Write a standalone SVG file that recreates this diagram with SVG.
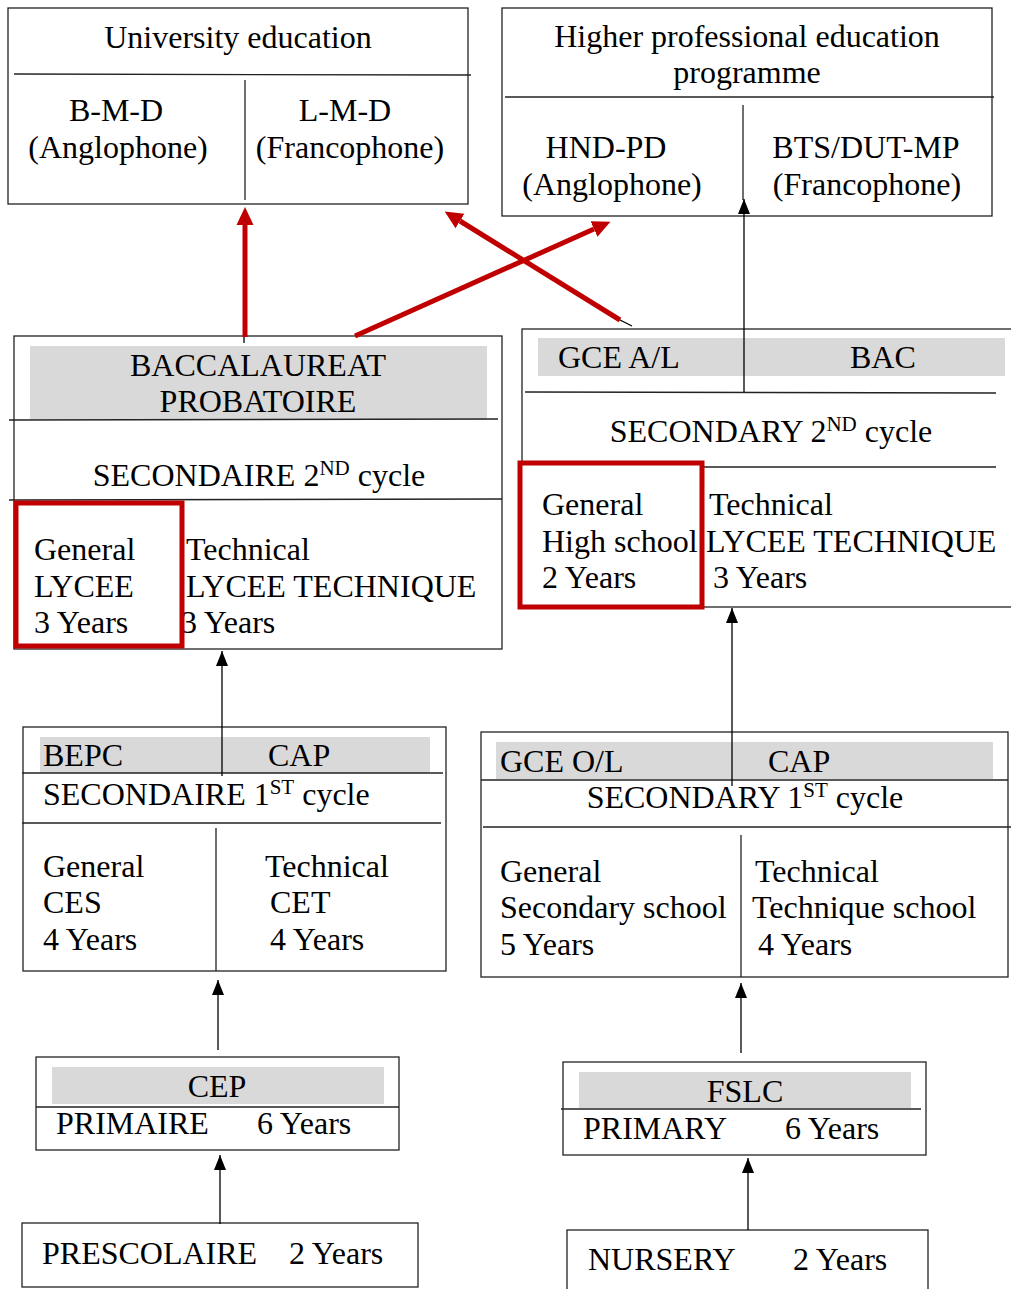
<svg xmlns="http://www.w3.org/2000/svg" width="1011" height="1289" viewBox="0 0 1011 1289">
<style>
text{font-family:"Liberation Serif","Times New Roman",serif;font-size:32px;fill:#000}
.c{text-anchor:middle}
.sup{font-size:21px}
.box{fill:#fff;stroke:#222;stroke-width:1.3}
.ln{stroke:#222;stroke-width:1.3;fill:none}
.gray{fill:#d9d9d9}
.red{fill:#fff;stroke:#c00000;stroke-width:5}
.arr{stroke:#000;stroke-width:1.3;fill:none}
.rarr{stroke:#c00000;stroke-width:5;fill:none}
</style>
<defs>
<marker id="ah" markerUnits="userSpaceOnUse" markerWidth="16" markerHeight="14" viewBox="0 -7 16 14" refX="15" refY="0" orient="auto"><path d="M0,-6 L15,0 L0,6 z" fill="#000"/></marker>
<marker id="rh" markerUnits="userSpaceOnUse" markerWidth="19" markerHeight="19" viewBox="0 -9.5 19 19" refX="0" refY="0" orient="auto"><path d="M0,-8.5 L18,0 L0,8.5 z" fill="#c00000"/></marker>
</defs>

<g id="university">
<rect class="box" x="8" y="8" width="460" height="196"/>
<line class="ln" x1="14" y1="74" x2="471" y2="75"/>
<line class="ln" x1="245" y1="80" x2="245" y2="200"/>
<text class="c" x="238" y="48">University education</text>
<text class="c" x="116" y="121">B-M-D</text>
<text class="c" x="118" y="158">(Anglophone)</text>
<text class="c" x="345" y="121">L-M-D</text>
<text class="c" x="350" y="158">(Francophone)</text>
</g>

<g id="higher-professional">
<rect class="box" x="502" y="8" width="490" height="208"/>
<line class="ln" x1="505" y1="97" x2="994" y2="97"/>
<line class="ln" x1="743" y1="105" x2="743" y2="200"/>
<text class="c" x="747" y="47">Higher professional education</text>
<text class="c" x="747" y="83">programme</text>
<text class="c" x="606" y="158">HND-PD</text>
<text class="c" x="612" y="195">(Anglophone)</text>
<text class="c" x="866" y="158">BTS/DUT-MP</text>
<text class="c" x="867" y="195">(Francophone)</text>
</g>

<g id="secondaire-2">
<rect class="box" x="14" y="336" width="488" height="313"/>
<rect class="gray" x="30" y="346" width="457" height="73"/>
<line class="ln" x1="9" y1="420" x2="498" y2="419"/>
<line class="ln" x1="9" y1="500" x2="502" y2="499"/>
<text class="c" x="258" y="376">BACCALAUREAT</text>
<text class="c" x="258" y="412">PROBATOIRE</text>
<text class="c" x="259" y="486">SECONDAIRE 2<tspan class="sup" dy="-11">ND</tspan><tspan dy="11"> cycle</tspan></text>
<text x="186" y="560">Technical</text>
<text x="186" y="597">LYCEE TECHNIQUE</text>
<text x="181" y="633">3 Years</text>
<rect class="red" x="16" y="503" width="166" height="143"/>
<text x="34" y="560">General</text>
<text x="34" y="597">LYCEE</text>
<text x="34" y="633">3 Years</text>
</g>

<g id="secondary-2">
<rect class="box" x="522" y="329" width="500" height="278"/>
<rect class="gray" x="538" y="338" width="467" height="38"/>
<line class="ln" x1="525" y1="392" x2="996" y2="393"/>
<line class="ln" x1="700" y1="467" x2="996" y2="467"/>
<text x="558" y="368">GCE A/L</text>
<text x="850" y="368">BAC</text>
<text class="c" x="771" y="442">SECONDARY 2<tspan class="sup" dy="-11">ND</tspan><tspan dy="11"> cycle</tspan></text>
<text x="709" y="515">Technical</text>
<text x="706" y="552">LYCEE TECHNIQUE</text>
<text x="713" y="588">3 Years</text>
<rect class="red" x="520" y="463" width="182" height="144"/>
<text x="542" y="515">General</text>
<text x="542" y="552">High school</text>
<text x="542" y="588">2 Years</text>
</g>

<g id="secondaire-1">
<rect class="box" x="23" y="727" width="423" height="244"/>
<rect class="gray" x="40" y="737" width="390" height="36"/>
<line class="ln" x1="22" y1="773" x2="443" y2="773"/>
<line class="ln" x1="22" y1="823" x2="441" y2="823"/>
<line class="ln" x1="216" y1="828" x2="216" y2="971"/>
<text x="43" y="766">BEPC</text>
<text x="268" y="766">CAP</text>
<text x="43" y="805">SECONDAIRE 1<tspan class="sup" dy="-11">ST</tspan><tspan dy="11"> cycle</tspan></text>
<text x="43" y="877">General</text>
<text x="43" y="913">CES</text>
<text x="43" y="950">4 Years</text>
<text x="265" y="877">Technical</text>
<text x="270" y="913">CET</text>
<text x="270" y="950">4 Years</text>
</g>

<g id="secondary-1">
<rect class="box" x="481" y="732" width="527" height="245"/>
<rect class="gray" x="496" y="742" width="497" height="37"/>
<line class="ln" x1="481" y1="780" x2="1008" y2="780"/>
<line class="ln" x1="483" y1="827" x2="1011" y2="827"/>
<line class="ln" x1="741" y1="835" x2="741" y2="977"/>
<text x="500" y="772">GCE O/L</text>
<text x="768" y="772">CAP</text>
<text class="c" x="745" y="808">SECONDARY 1<tspan class="sup" dy="-11">ST</tspan><tspan dy="11"> cycle</tspan></text>
<text x="500" y="882">General</text>
<text x="500" y="918">Secondary school</text>
<text x="500" y="955">5 Years</text>
<text x="755" y="882">Technical</text>
<text x="752" y="918">Technique school</text>
<text x="758" y="955">4 Years</text>
</g>

<g id="primaire">
<rect class="box" x="36" y="1057" width="363" height="93"/>
<rect class="gray" x="52" y="1067" width="332" height="37"/>
<line class="ln" x1="36" y1="1107" x2="399" y2="1107"/>
<text class="c" x="217" y="1097">CEP</text>
<text x="56" y="1134">PRIMAIRE</text>
<text x="257" y="1134">6 Years</text>
</g>

<g id="primary">
<rect class="box" x="563" y="1062" width="363" height="93"/>
<rect class="gray" x="579" y="1072" width="332" height="36"/>
<line class="ln" x1="561" y1="1109" x2="921" y2="1109"/>
<text class="c" x="745" y="1102">FSLC</text>
<text x="583" y="1139">PRIMARY</text>
<text x="785" y="1139">6 Years</text>
</g>

<g id="prescolaire">
<rect class="box" x="22" y="1223" width="396" height="64"/>
<text x="42" y="1264">PRESCOLAIRE</text>
<text x="289" y="1264">2 Years</text>
</g>

<g id="nursery">
<rect class="box" x="567" y="1230" width="361" height="62"/>
<text x="588" y="1270">NURSERY</text>
<text x="793" y="1270">2 Years</text>
</g>

<g id="connectors">
<line class="arr" x1="744" y1="392" x2="744" y2="199" marker-end="url(#ah)"/>
<line class="arr" x1="222" y1="776" x2="222" y2="651" marker-end="url(#ah)"/>
<line class="arr" x1="732" y1="786" x2="732" y2="608" marker-end="url(#ah)"/>
<line class="arr" x1="218" y1="1050" x2="218" y2="980" marker-end="url(#ah)"/>
<line class="arr" x1="741" y1="1053" x2="741" y2="983" marker-end="url(#ah)"/>
<line class="arr" x1="220" y1="1224" x2="220" y2="1155" marker-end="url(#ah)"/>
<line class="arr" x1="748" y1="1230" x2="748" y2="1158" marker-end="url(#ah)"/>
<line class="arr" x1="244" y1="330" x2="244" y2="343"/>
<line class="arr" x1="618" y1="319" x2="632" y2="326"/>
<line class="rarr" x1="245" y1="337" x2="245" y2="225" marker-end="url(#rh)"/>
<line class="rarr" x1="355" y1="336" x2="594" y2="229" marker-end="url(#rh)"/>
<line class="rarr" x1="620" y1="320" x2="460" y2="221" marker-end="url(#rh)"/>
</g>
</svg>
